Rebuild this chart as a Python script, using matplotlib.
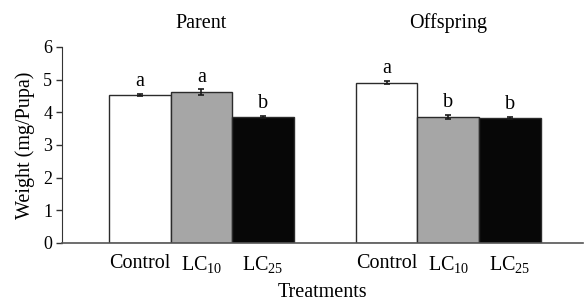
import numpy as np
import matplotlib as mpl
mpl.use('Agg')
import matplotlib.pyplot as plt

plt.rcParams['font.family'] = ['Liberation Serif', 'DejaVu Serif']
plt.rcParams['mathtext.fontset'] = 'custom'
plt.rcParams['mathtext.rm'] = 'Liberation Serif'
plt.rcParams['mathtext.it'] = 'Liberation Serif:italic'

groups = ['Parent', 'Offspring']
treatments = ['Control', 'LC$_{10}$', 'LC$_{25}$']
parent_mean = [4.54, 4.62, 3.86]
parent_err = [0.03, 0.08, 0.04]
offspring_mean = [4.91, 3.86, 3.84]
offspring_err = [0.05, 0.07, 0.03]
parent_sig = ['a', 'a', 'b']
offspring_sig = ['a', 'b', 'b']

COLORS = ['#ffffff', '#a6a6a6', '#070707']
TickSize, LabelSize = 13, 14.5

fig = plt.figure(figsize=(5.84, 3.04), dpi=100)
ax = fig.add_axes([0.106, 0.2007, 0.892, 0.6447])

x_par = np.arange(3)
x_off = np.arange(3) + 4
for xs, means, errs, sig in [(x_par, parent_mean, parent_err, parent_sig),
                             (x_off, offspring_mean, offspring_err, offspring_sig)]:
    ax.bar(xs, means, width=1.0, color=COLORS, edgecolor='#2b2b2b', linewidth=1.0, zorder=2)
    ax.errorbar(xs, means, yerr=errs, fmt='none', ecolor='#1a1a1a', elinewidth=1.2,
                capsize=2.5, capthick=1.2, zorder=3)
    for x, m, e, s in zip(xs, means, errs, sig):
        ax.annotate(s, (x, m + e), xytext=(0, 2), textcoords='offset points',
                    ha='center', va='bottom', fontsize=LabelSize)

ax.set_xlim(-1.26, 7.18)
ax.set_ylim(0, 6)
ax.set_yticks(range(7))
ax.tick_params(axis='y', labelsize=TickSize, direction='out', length=4, width=1, color='#333333', pad=3)
ax.set_xticks(list(x_par) + list(x_off))
ax.set_xticklabels(treatments * 2, fontsize=LabelSize)
ax.tick_params(axis='x', length=0, pad=8)
for side in ['top', 'right']:
    ax.spines[side].set_visible(False)
ax.spines['left'].set_color('#333333')
ax.spines['bottom'].set_color('#555555')
ax.spines['bottom'].set_linewidth(1.2)

ax.set_xlabel('Treatments', fontsize=LabelSize, labelpad=6)
ax.set_ylabel('Weight (mg/Pupa)', fontsize=LabelSize, labelpad=6)

for xs, g in [(x_par, groups[0]), (x_off, groups[1])]:
    ax.text(xs.mean(), 6.72, g, ha='center', va='center', fontsize=LabelSize, clip_on=False)

plt.savefig('out.png', dpi=100)
